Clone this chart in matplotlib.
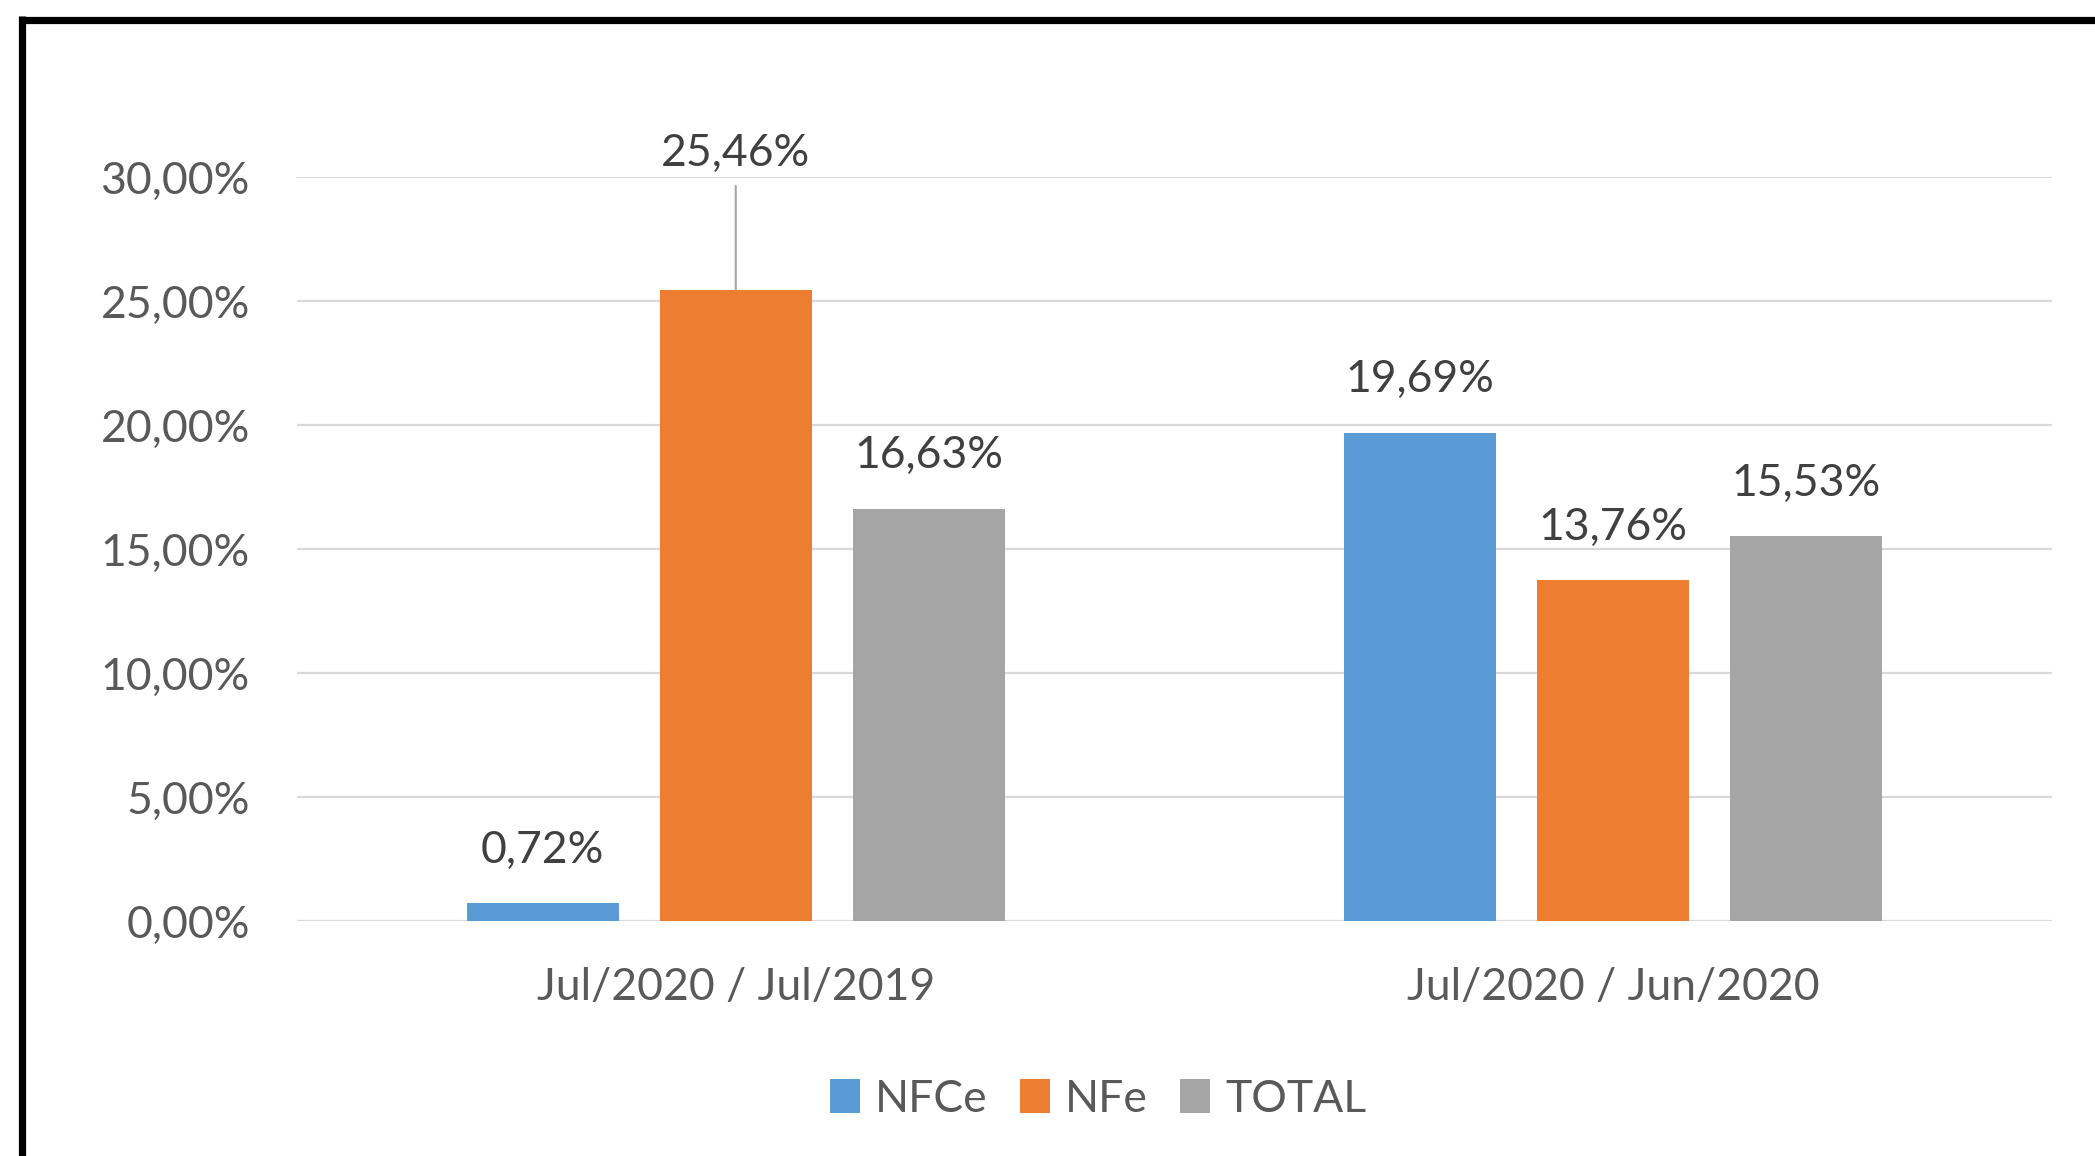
import matplotlib
matplotlib.use("Agg")
import matplotlib.pyplot as plt
import numpy as np
from matplotlib.lines import Line2D

categories = ["Jul/2020 / Jul/2019", "Jul/2020 / Jun/2020"]
series_names = ["NFCe", "NFe", "TOTAL"]
nfce = [0.72, 19.69]
nfe = [25.46, 13.76]
total = [16.63, 15.53]
yticks = [0, 5, 10, 15, 20, 25, 30]
ytick_labels = ["0,00%", "5,00%", "10,00%", "15,00%", "20,00%", "25,00%", "30,00%"]

colors = ["#5B9BD5", "#ED7D31", "#A5A5A5"]
FONT = "Lato"
FS = 32
W, H = 2095, 1156
fig = plt.figure(figsize=(W / 100, H / 100), dpi=100)
fig.patch.set_facecolor("white")

ax = fig.add_axes([297 / W, 1 - 921 / H, (2052 - 297) / W, (921 - 177) / H])
ax.set_xlim(-0.5, 1.5)
ax.set_ylim(0, 30)

x = np.arange(len(categories))
width = 0.173
offs = [-0.22, 0.0, 0.22]
all_vals = [nfce, nfe, total]
for i, (vals, c, name) in enumerate(zip(all_vals, colors, series_names)):
    ax.bar(x + offs[i], vals, width, color=c, label=name, zorder=3,
           edgecolor="none")
    for xi, v in zip(x + offs[i], vals):
        lab = f"{v:.2f}".replace(".", ",") + "%"
        if v > 25:
            ax.annotate(lab, xy=(xi, v), xytext=(xi, 30.97), textcoords="data",
                        ha="center", va="center", fontsize=FS, family=FONT,
                        color="#404040", annotation_clip=False,
                        arrowprops=dict(arrowstyle="-", color="#A5A5A5", lw=1.5,
                                        shrinkA=7, shrinkB=0))
        else:
            ax.annotate(lab, xy=(xi, v), xytext=(0, 38), textcoords="offset points",
                        ha="center", va="center", fontsize=FS, family=FONT,
                        color="#404040")

ax.set_yticks(yticks)
ax.set_yticklabels(ytick_labels, fontsize=FS, family=FONT, color="#595959")
ax.set_xticks(x)
ax.set_xticklabels(categories, fontsize=FS, family=FONT, color="#595959")
ax.tick_params(axis="y", length=0, pad=34)
ax.tick_params(axis="x", length=0, pad=33)
ax.grid(axis="y", color="#D9D9D9", lw=1.6, zorder=0)
for s in ax.spines.values():
    s.set_visible(False)

# frame lines (top and left)
fig.add_artist(Line2D([18.5 / W, 1.0], [1 - 19.5 / H, 1 - 19.5 / H], color="black",
                      lw=5.2, transform=fig.transFigure, solid_capstyle="butt"))
fig.add_artist(Line2D([21.5 / W, 21.5 / W], [0, 1 - 16 / H], color="black",
                      lw=5.2, transform=fig.transFigure, solid_capstyle="butt"))

leg = fig.legend(loc="center", bbox_to_anchor=(1098 / W, 1 - 1099 / H), ncol=3,
                 frameon=False, handlelength=0.68, handleheight=0.77,
                 handletextpad=0.34, columnspacing=0.72,
                 prop={"family": FONT, "size": FS})
for t in leg.get_texts():
    t.set_color("#595959")

fig.savefig("out.png", dpi=100, facecolor="white")
